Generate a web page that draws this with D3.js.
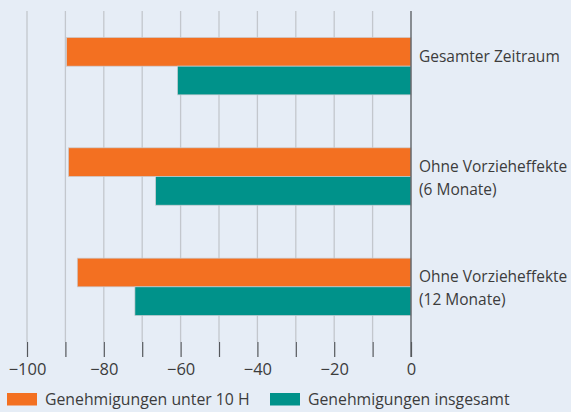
<!DOCTYPE html>
<html>
<head>
<meta charset="utf-8">
<script src="https://cdn.jsdelivr.net/npm/d3@7"></script>
<style>
  body { margin: 0; background: #e6edf6; }
  svg { display: block; font-family: "Open Sans", "Noto Sans", sans-serif; }
</style>
</head>
<body>
<svg id="chart"></svg>
<script>
const categories = [
  ["Gesamter Zeitraum"],
  ["Ohne Vorzieheffekte", "(6 Monate)"],
  ["Ohne Vorzieheffekte", "(12 Monate)"],
];
const unter10H = [-89.7, -89.2, -86.9];
const insgesamt = [-60.8, -66.5, -71.9];
const xTicks = [-100, -80, -60, -40, -20, 0];
const seriesNames = ["Genehmigungen unter 10 H", "Genehmigungen insgesamt"];
const colors = ["#f37021", "#00928a"];

const width = 571;
const height = 412;
const plot = { left: 27, right: 411, top: 11, bottom: 342 };

const svg = d3.select("#chart").attr("width", width).attr("height", height);

svg.append("rect")
  .attr("width", width).attr("height", height)
  .attr("fill", "#e6edf6");

const x = d3.scaleLinear().domain([-100, 0]).range([plot.left, plot.right]);
const y = d3.scaleBand()
  .domain(d3.range(categories.length))
  .range([plot.top, plot.bottom])
  .paddingInner(0.48)
  .paddingOuter(0.24);
const ySub = d3.scaleBand().domain([0, 1]).range([0, y.bandwidth()]);

// gridlines every 10
const grid = d3.range(-100, 0, 10);
svg.append("g")
  .selectAll("line")
  .data(grid)
  .join("line")
  .attr("x1", (d) => x(d)).attr("x2", (d) => x(d))
  .attr("y1", plot.top).attr("y2", plot.bottom)
  .attr("stroke", "#c3c7cd")
  .attr("stroke-width", 1.3);

// bars
const rows = categories.map((c, i) => ({ i, vals: [unter10H[i], insgesamt[i]] }));
const g = svg.append("g");
rows.forEach((r) => {
  r.vals.forEach((v, k) => {
    g.append("rect")
      .attr("x", x(v))
      .attr("y", y(r.i) + ySub(k))
      .attr("width", x(0) - x(v))
      .attr("height", ySub.bandwidth())
      .attr("fill", colors[k])
      .attr("stroke", "#c9ccd0")
      .attr("stroke-width", 0.7);
  });
});

// axis
const axis = d3.axisBottom(x)
  .tickValues(d3.range(-100, 1, 10))
  .tickSize(15)
  .tickFormat((d) => (xTicks.includes(d) ? d3.format("")(d).replace("-", "\u2212") : ""));
const ax = svg.append("g")
  .attr("transform", `translate(0,${plot.bottom})`)
  .call(axis);
ax.select(".domain").remove();
ax.selectAll(".tick line").attr("stroke", "#55585c").attr("stroke-width", 1.2);
ax.selectAll(".tick text")
  .attr("y", 21)
  .attr("fill", "#3c3c3c")
  .style("font-size", "16.5px")
  .style("font-family", "'Open Sans', sans-serif");

// zero line
svg.append("line")
  .attr("x1", x(0)).attr("x2", x(0))
  .attr("y1", plot.top).attr("y2", plot.bottom + 15)
  .attr("stroke", "#55585c")
  .attr("stroke-width", 1.3);

// category labels
const lab = svg.append("g")
  .attr("font-size", 15.5)
  .attr("fill", "#3c3c3c");
categories.forEach((lines, i) => {
  const t = lab.append("text")
    .attr("x", x(0) + 8)
    .attr("y", y(i) + y.bandwidth() / 2 - 10)
    .attr("dy", "0.35em");
  lines.forEach((l, j) => {
    t.append("tspan")
      .attr("x", x(0) + 8)
      .attr("dy", j === 0 ? "0.35em" : 23)
      .text(l);
  });
});

// legend
const legendX = [7, 270];
const leg = svg.append("g").attr("transform", "translate(0,393)");
seriesNames.forEach((name, k) => {
  leg.append("rect")
    .attr("x", legendX[k]).attr("y", 0)
    .attr("width", 30).attr("height", 12.5)
    .attr("fill", colors[k]);
  leg.append("text")
    .attr("x", legendX[k] + 38)
    .attr("y", 6.5)
    .attr("dy", "0.35em")
    .attr("font-size", 15.8)
    .attr("fill", "#3c3c3c")
    .text(name);
});
</script>
</body>
</html>
